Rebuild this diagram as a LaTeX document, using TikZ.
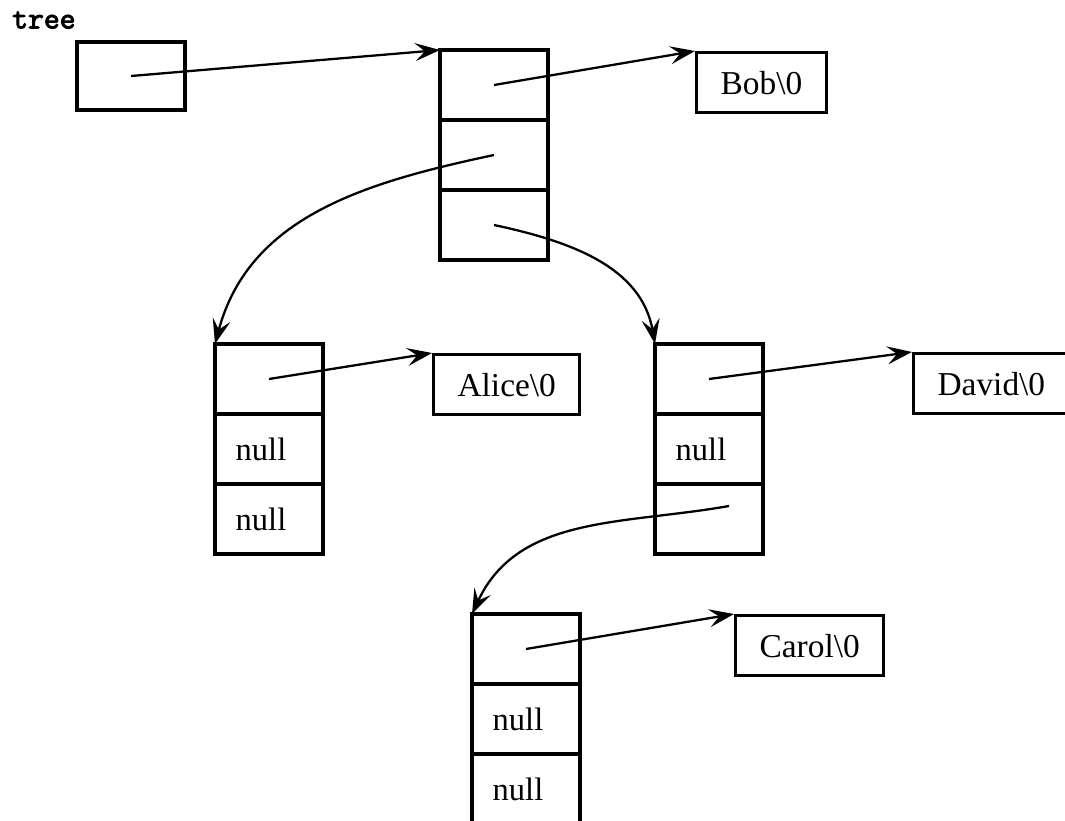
\documentclass[tikz,border=0pt]{standalone}
\usepackage{fontspec}
\setmainfont{Liberation Serif}
\setmonofont{Latin Modern Mono}[AutoFakeBold=3]
\usetikzlibrary{arrows.meta,positioning}
\newcommand{\nullval}{null\kern3.2mm}

\begin{document}
\begin{tikzpicture}[x=0.2mm,y=-0.2mm,>={Stealth[length=5mm,width=3.6mm,inset=2mm]},
 cell/.style={draw,line width=1.8pt,outer sep=0pt,minimum width=21.6mm,minimum height=14mm,inner sep=0pt,font=\fontsize{18.5}{20}\selectfont},
 strbox/.style={draw,line width=1.8pt,anchor=north west,minimum height=12mm,inner xsep=4.8mm,font=\fontsize{19}{22}\selectfont},
 ptr/.style={->,line width=1.3pt}]
\useasboundingbox (0,0) rectangle (1065,821);
\node[anchor=west,font=\ttfamily\bfseries\fontsize{17.5}{18}\selectfont] (label) at (6,20) {tree};
\node[cell,anchor=north west,minimum height=13.6mm] (tree) at (77,42) {};
% root: Bob
\node[cell,anchor=north west] (bob1) at (440,50) {};
\node[cell,below=0pt of bob1] (bob2) {};
\node[cell,below=0pt of bob2] (bob3) {};
\node[strbox] (bobstr) at (695,51) {Bob\textbackslash 0};
% left child: Alice
\node[cell,anchor=north west] (alice1) at (215,344) {};
\node[cell,below=0pt of alice1] (alice2) {\nullval};
\node[cell,below=0pt of alice2] (alice3) {\nullval};
\node[strbox] (alicestr) at (432,353) {Alice\textbackslash 0};
% right child: David
\node[cell,anchor=north west] (david1) at (655,344) {};
\node[cell,below=0pt of david1] (david2) {\nullval};
\node[cell,below=0pt of david2] (david3) {};
\node[strbox] (davidstr) at (912,352) {David\textbackslash 0};
% David's left child: Carol
\node[cell,anchor=north west] (carol1) at (472,614) {};
\node[cell,below=0pt of carol1] (carol2) {\nullval};
\node[cell,below=0pt of carol2] (carol3) {\nullval};
\node[strbox] (carolstr) at (734,614) {Carol\textbackslash 0};
% pointers
\draw[ptr] (tree.center) -- (bob1.north west);
\draw[ptr] (bob1.center) -- (bobstr.north west);
\draw[ptr] (bob2.center) to[out=192,in=75] (alice1.north west);
\draw[ptr] (bob3.center) to[out=-12,in=100] (david1.north west);
\draw[ptr] (alice1.center) -- (alicestr.north west);
\draw[ptr] (david1.center) -- (davidstr.north west);
\draw[ptr] ([shift={(20,-13)}]david3.center) to[out=190,in=65] (carol1.north west);
\draw[ptr] (carol1.center) -- (carolstr.north west);
\end{tikzpicture}
\end{document}
